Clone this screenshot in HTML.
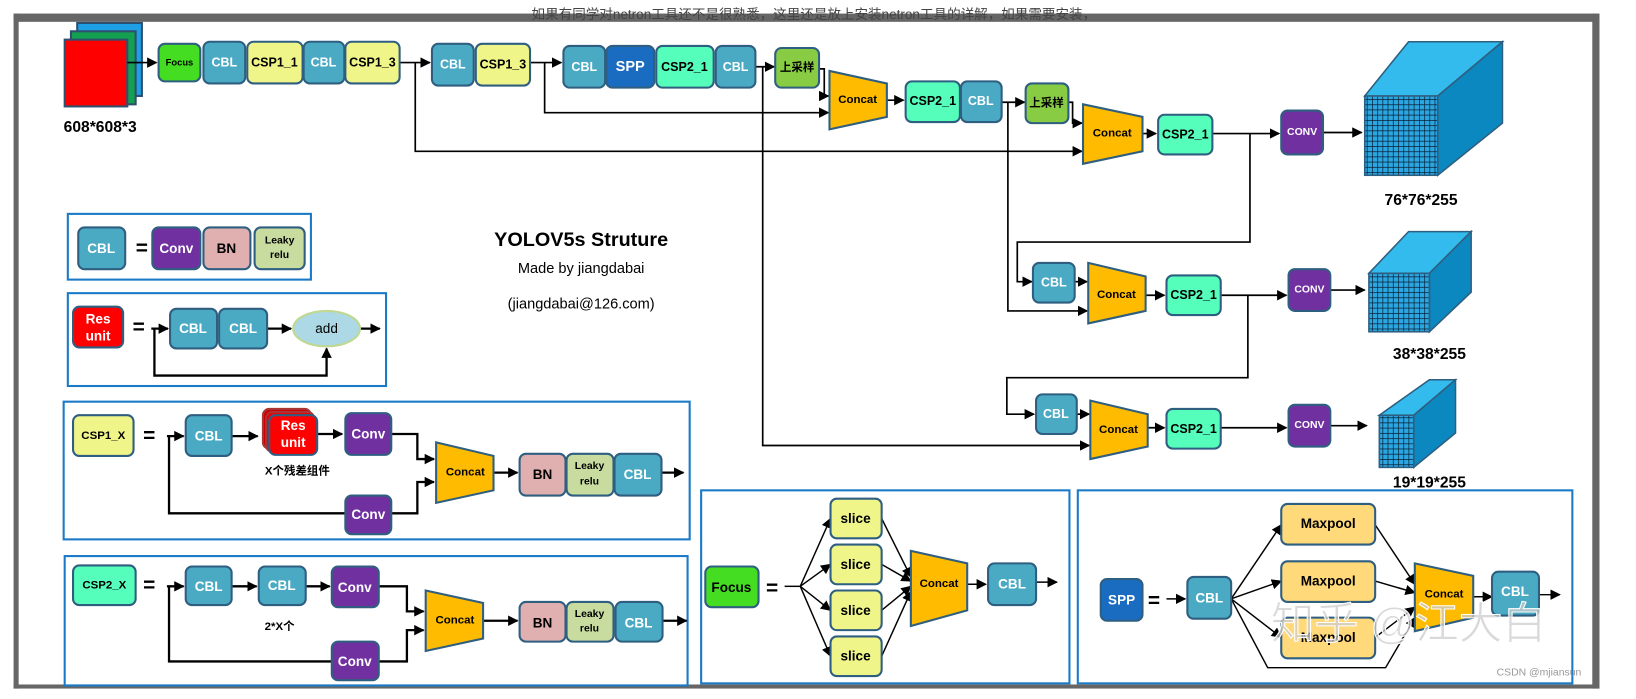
<!DOCTYPE html>
<html><head><meta charset="utf-8"><style>
html,body{margin:0;padding:0;background:#fff;overflow:hidden}
svg{display:block}
text{font-family:"Liberation Sans","Noto Sans CJK SC",sans-serif;font-weight:bold;text-anchor:middle;dominant-baseline:central}
text.n{font-weight:normal}
</style></head><body>
<svg width="1636" height="699" viewBox="0 0 1568 670" preserveAspectRatio="none" xmlns="http://www.w3.org/2000/svg">
<defs>
<marker id="a" markerUnits="userSpaceOnUse" markerWidth="10" markerHeight="10" refX="9" refY="5" orient="auto"><path d="M0,0L10,5L0,10z" fill="#000"/></marker>
<pattern id="g" width="5" height="5" patternUnits="userSpaceOnUse"><rect width="5" height="5" fill="#2aa6e0"/><path d="M0,0H5M0,0V5" stroke="#0a1a30" stroke-width="1.3"/></pattern>
</defs>
<rect width="1568" height="670" fill="#fff"/>
<!-- frame -->
<rect x="13" y="13" width="1517" height="8" fill="#666"/>
<text class="n" x="780" y="14" font-size="13" fill="#444">如果有同学对netron工具还不是很熟悉，这里还是放上安装netron工具的详解，如果需要安装，</text>
<rect x="13" y="13" width="5" height="647" fill="#666"/>
<rect x="1526" y="13" width="7" height="647" fill="#666"/>
<rect x="13" y="656" width="1520" height="4" fill="#666"/>
<rect x="18" y="21" width="1508" height="635" fill="#fff"/>

<g stroke="#2f4f6f" stroke-width="2">
<rect x="74" y="22" width="62" height="70" fill="#1ea0e6"/>
<rect x="68" y="30" width="62" height="70" fill="#13a050"/>
<rect x="62" y="38" width="60" height="64" fill="#ff0000"/>
</g>
<text x="96" y="122" font-size="15">608*608*3</text>

<g fill="none" stroke="#000" stroke-width="1.6">
<path d="M122,60H150" marker-end="url(#a)"/>
<path d="M383,60H412" marker-end="url(#a)"/>
<path d="M398,60V145H1037" marker-end="url(#a)"/>
<path d="M508,60H538" marker-end="url(#a)"/>
<path d="M522,60V108H794" marker-end="url(#a)"/>
<path d="M724,64H742" marker-end="url(#a)"/>
<path d="M731,64V427H1044" marker-end="url(#a)"/>
<path d="M785,66H790V92H794" marker-end="url(#a)"/>
<path d="M850,96H866" marker-end="url(#a)"/>
<path d="M960,98H982" marker-end="url(#a)"/>
<path d="M966,98V298H1042" marker-end="url(#a)"/>
<path d="M1024,98H1028V118H1037" marker-end="url(#a)"/>
<path d="M1095,128H1108" marker-end="url(#a)"/>
<path d="M1162,128H1226" marker-end="url(#a)"/>
<path d="M1268,127H1305" marker-end="url(#a)"/>
<path d="M1198,128V232H975V270H989" marker-end="url(#a)"/>
<path d="M1030,270H1042" marker-end="url(#a)"/>
<path d="M1098,283H1116" marker-end="url(#a)"/>
<path d="M1170,283H1233" marker-end="url(#a)"/>
<path d="M1275,278H1308" marker-end="url(#a)"/>
<path d="M1196,283V362H965V397H991" marker-end="url(#a)"/>
<path d="M1032,397H1044" marker-end="url(#a)"/>
<path d="M1100,410H1116" marker-end="url(#a)"/>
<path d="M1170,410H1233" marker-end="url(#a)"/>
<path d="M1275,408H1310" marker-end="url(#a)"/>
</g>

<g stroke="#2f5f80" stroke-width="2">
<rect x="152" y="42" width="40" height="36" rx="6" fill="#44dd22"/>
<rect x="195" y="40" width="40" height="40" rx="6" fill="#4aaac4"/>
<rect x="237" y="40" width="53" height="40" rx="6" fill="#f0f58a"/>
<rect x="291" y="40" width="39" height="40" rx="6" fill="#4aaac4"/>
<rect x="331" y="40" width="52" height="40" rx="6" fill="#f0f58a"/>
<rect x="414" y="42" width="40" height="40" rx="6" fill="#4aaac4"/>
<rect x="456" y="42" width="52" height="40" rx="6" fill="#f0f58a"/>
<rect x="540" y="44" width="40" height="40" rx="6" fill="#4aaac4"/>
<rect x="581" y="44" width="46" height="40" rx="6" fill="#1a6cc0"/>
<rect x="629" y="44" width="55" height="40" rx="6" fill="#55ffbb"/>
<rect x="686" y="44" width="38" height="40" rx="6" fill="#4aaac4"/>
<rect x="743" y="46" width="42" height="38" rx="6" fill="#88cc44"/>
<polygon points="795,68 850,80 850,112 795,124" fill="#ffbb00"/>
<rect x="868" y="78" width="52" height="39" rx="6" fill="#55ffbb"/>
<rect x="921" y="78" width="39" height="39" rx="6" fill="#4aaac4"/>
<rect x="983" y="80" width="41" height="38" rx="6" fill="#88cc44"/>
<polygon points="1038,100 1095,112 1095,145 1038,157" fill="#ffbb00"/>
<rect x="1110" y="110" width="52" height="38" rx="6" fill="#55ffbb"/>
<rect x="1228" y="106" width="40" height="42" rx="6" fill="#7030a0"/>
<rect x="990" y="252" width="40" height="38" rx="6" fill="#4aaac4"/>
<polygon points="1043,252 1098,265 1098,298 1043,310" fill="#ffbb00"/>
<rect x="1118" y="264" width="52" height="38" rx="6" fill="#55ffbb"/>
<rect x="1235" y="258" width="40" height="40" rx="6" fill="#7030a0"/>
<rect x="993" y="378" width="39" height="38" rx="6" fill="#4aaac4"/>
<polygon points="1045,384 1100,397 1100,428 1045,440" fill="#ffbb00"/>
<rect x="1118" y="392" width="52" height="38" rx="6" fill="#55ffbb"/>
<rect x="1235" y="388" width="40" height="40" rx="6" fill="#7030a0"/>
</g>
<g font-size="12">
<text x="172" y="60" font-size="9">Focus</text>
<text x="215" y="60" fill="#fff">CBL</text>
<text x="263" y="60">CSP1_1</text>
<text x="310" y="60" fill="#fff">CBL</text>
<text x="357" y="60">CSP1_3</text>
<text x="434" y="62" fill="#fff">CBL</text>
<text x="482" y="62">CSP1_3</text>
<text x="560" y="64" fill="#fff">CBL</text>
<text x="604" y="64" fill="#fff" font-size="14">SPP</text>
<text x="656" y="64">CSP2_1</text>
<text x="705" y="64" fill="#fff">CBL</text>
<text x="764" y="65" font-size="11">上采样</text>
<text x="822" y="96" font-size="11">Concat</text>
<text x="894" y="97">CSP2_1</text>
<text x="940" y="97" fill="#fff">CBL</text>
<text x="1003" y="99" font-size="11">上采样</text>
<text x="1066" y="128" font-size="11">Concat</text>
<text x="1136" y="129">CSP2_1</text>
<text x="1248" y="127" fill="#fff" font-size="10">CONV</text>
<text x="1010" y="271" fill="#fff">CBL</text>
<text x="1070" y="283" font-size="11">Concat</text>
<text x="1144" y="283">CSP2_1</text>
<text x="1255" y="278" fill="#fff" font-size="10">CONV</text>
<text x="1012" y="397" fill="#fff">CBL</text>
<text x="1072" y="412" font-size="11">Concat</text>
<text x="1144" y="411">CSP2_1</text>
<text x="1255" y="408" fill="#fff" font-size="10">CONV</text>
</g>

<g stroke="#2f5f80" stroke-width="1.5">
<polygon points="1308,92 1350,40 1440,40 1378,92" fill="#33bbee"/>
<polygon points="1378,92 1440,40 1440,118 1378,168" fill="#0b88c0"/>
<rect x="1308" y="92" width="70" height="76" fill="url(#g)"/>
<polygon points="1312,262 1350,222 1410,222 1370,262" fill="#33bbee"/>
<polygon points="1370,262 1410,222 1410,280 1370,318" fill="#0b88c0"/>
<rect x="1312" y="262" width="58" height="56" fill="url(#g)"/>
<polygon points="1322,398 1370,364 1395,364 1355,398" fill="#33bbee"/>
<polygon points="1355,398 1395,364 1395,415 1355,448" fill="#0b88c0"/>
<rect x="1322" y="398" width="33" height="50" fill="url(#g)"/>
</g>
<text x="1362" y="192" font-size="15">76*76*255</text>
<text x="1370" y="340" font-size="15">38*38*255</text>
<text x="1370" y="463" font-size="15">19*19*255</text>

<text x="557" y="230" font-size="19">YOLOV5s Struture</text>
<text class="n" x="557" y="258" font-size="14">Made by jiangdabai</text>
<text class="n" x="557" y="292" font-size="14">(jiangdabai@126.com)</text>

<g fill="none" stroke="#1a7ac8" stroke-width="2">
<rect x="65" y="205" width="233" height="63"/>
<rect x="65" y="281" width="305" height="89"/>
<rect x="61" y="385" width="600" height="132"/>
<rect x="62" y="533" width="597" height="124"/>
<rect x="672" y="470" width="353" height="185"/>
<rect x="1033" y="470" width="474" height="185"/>
</g>

<g fill="none" stroke="#000" stroke-width="2.2">
<path d="M145,315H161" marker-end="url(#a)"/>
<path d="M256,315H279" marker-end="url(#a)"/>
<path d="M345,315H364" marker-end="url(#a)"/>
<path d="M148,315V360H313V334" marker-end="url(#a)"/>
<path d="M160,418H176" marker-end="url(#a)"/>
<path d="M222,418H247" marker-end="url(#a)"/>
<path d="M302,416H328" marker-end="url(#a)"/>
<path d="M375,416H400V440H416" marker-end="url(#a)"/>
<path d="M162,418V492H375H400V462H416" marker-end="url(#a)"/>
<path d="M473,453H496" marker-end="url(#a)"/>
<path d="M634,453H655" marker-end="url(#a)"/>
<path d="M160,562H176" marker-end="url(#a)"/>
<path d="M222,562H246" marker-end="url(#a)"/>
<path d="M293,562H316" marker-end="url(#a)"/>
<path d="M363,562H390V586H406" marker-end="url(#a)"/>
<path d="M162,562V634H363H390V604H406" marker-end="url(#a)"/>
<path d="M463,595H496" marker-end="url(#a)"/>
<path d="M635,595H658" marker-end="url(#a)"/>
</g>
<g stroke="#2f5f80" stroke-width="2">
<rect x="75" y="218" width="45" height="40" rx="6" fill="#4aaac4"/>
<rect x="146" y="218" width="46" height="40" rx="6" fill="#7030a0"/>
<rect x="195" y="218" width="45" height="40" rx="6" fill="#e0b0b0"/>
<rect x="244" y="218" width="48" height="40" rx="6" fill="#c8dca0"/>
<rect x="70" y="294" width="48" height="39" rx="6" fill="#ff0000"/>
<rect x="163" y="296" width="45" height="38" rx="6" fill="#4aaac4"/>
<rect x="210" y="296" width="46" height="38" rx="6" fill="#4aaac4"/>
<ellipse cx="313" cy="315" rx="32" ry="17" fill="#add8e6" stroke="#c0d890"/>
<rect x="70" y="398" width="58" height="39" rx="6" fill="#f0f58a"/>
<rect x="178" y="398" width="44" height="39" rx="6" fill="#4aaac4"/>
<rect x="252" y="392" width="46" height="38" rx="6" fill="#c00" stroke="#a33"/>
<rect x="255" y="395" width="46" height="38" rx="6" fill="#e00" stroke="#a33"/>
<rect x="258" y="398" width="46" height="38" rx="6" fill="#ff0000"/>
<rect x="331" y="396" width="44" height="40" rx="6" fill="#7030a0"/>
<rect x="331" y="475" width="44" height="37" rx="6" fill="#7030a0"/>
<polygon points="418,424 473,437 473,470 418,482" fill="#ffbb00"/>
<rect x="498" y="435" width="44" height="40" rx="6" fill="#e0b0b0"/>
<rect x="543" y="435" width="45" height="40" rx="6" fill="#c8dca0"/>
<rect x="589" y="435" width="45" height="40" rx="6" fill="#4aaac4"/>
<rect x="70" y="542" width="60" height="38" rx="6" fill="#55ffbb"/>
<rect x="178" y="543" width="44" height="37" rx="6" fill="#4aaac4"/>
<rect x="248" y="543" width="45" height="37" rx="6" fill="#4aaac4"/>
<rect x="318" y="543" width="45" height="39" rx="6" fill="#7030a0"/>
<rect x="318" y="615" width="45" height="37" rx="6" fill="#7030a0"/>
<polygon points="408,566 463,578 463,612 408,624" fill="#ffbb00"/>
<rect x="498" y="577" width="44" height="38" rx="6" fill="#e0b0b0"/>
<rect x="543" y="577" width="45" height="38" rx="6" fill="#c8dca0"/>
<rect x="590" y="577" width="45" height="38" rx="6" fill="#4aaac4"/>
</g>
<g font-size="13">
<text x="97" y="238" fill="#fff">CBL</text>
<text x="136" y="238" font-size="20">=</text>
<text x="169" y="238" fill="#fff">Conv</text>
<text x="217" y="238">BN</text>
<text x="268" y="231" font-size="10">Leaky</text>
<text x="268" y="245" font-size="10">relu</text>
<text x="94" y="306" fill="#fff">Res</text>
<text x="94" y="322" fill="#fff">unit</text>
<text x="133" y="314" font-size="20">=</text>
<text x="185" y="315" fill="#fff">CBL</text>
<text x="233" y="315" fill="#fff">CBL</text>
<text class="n" x="313" y="315">add</text>
<text x="99" y="418" font-size="11">CSP1_X</text>
<text x="143" y="418" font-size="20">=</text>
<text x="200" y="418" fill="#fff">CBL</text>
<text x="281" y="408" fill="#fff">Res</text>
<text x="281" y="424" fill="#fff">unit</text>
<text x="353" y="416" fill="#fff">Conv</text>
<text x="285" y="452" font-size="11">X个残差组件</text>
<text x="353" y="493" fill="#fff">Conv</text>
<text x="446" y="453" font-size="11">Concat</text>
<text x="520" y="455">BN</text>
<text x="565" y="447" font-size="10">Leaky</text>
<text x="565" y="462" font-size="10">relu</text>
<text x="611" y="455" fill="#fff">CBL</text>
<text x="100" y="561" font-size="11">CSP2_X</text>
<text x="143" y="561" font-size="20">=</text>
<text x="200" y="562" fill="#fff">CBL</text>
<text x="270" y="561" fill="#fff">CBL</text>
<text x="340" y="563" fill="#fff">Conv</text>
<text x="268" y="601" font-size="11">2*X个</text>
<text x="340" y="634" fill="#fff">Conv</text>
<text x="436" y="595" font-size="11">Concat</text>
<text x="520" y="597">BN</text>
<text x="565" y="589" font-size="10">Leaky</text>
<text x="565" y="603" font-size="10">relu</text>
<text x="612" y="597" fill="#fff">CBL</text>
</g>

<g fill="none" stroke="#000" stroke-width="1.4">
<path d="M752,562H767"/>
<path d="M767,562L796,497" marker-end="url(#a)"/>
<path d="M767,562L796,541" marker-end="url(#a)"/>
<path d="M767,562L796,585" marker-end="url(#a)"/>
<path d="M767,562L796,629" marker-end="url(#a)"/>
<path d="M845,497L873,553" marker-end="url(#a)"/>
<path d="M845,541L873,557" marker-end="url(#a)"/>
<path d="M845,585L873,562" marker-end="url(#a)"/>
<path d="M845,629L873,567" marker-end="url(#a)"/>
<path d="M927,560H945" marker-end="url(#a)"/>
<path d="M993,558H1013" marker-end="url(#a)"/>
<path d="M1118,574H1136" marker-end="url(#a)"/>
<path d="M1180,574L1228,503" marker-end="url(#a)"/>
<path d="M1180,574L1228,557" marker-end="url(#a)"/>
<path d="M1180,574L1228,611" marker-end="url(#a)"/>
<path d="M1180,574L1215,640H1328L1356,592" marker-end="url(#a)"/>
<path d="M1318,503L1356,560" marker-end="url(#a)"/>
<path d="M1318,557L1356,568" marker-end="url(#a)"/>
<path d="M1318,611L1356,582" marker-end="url(#a)"/>
<path d="M1412,572H1430" marker-end="url(#a)"/>
<path d="M1475,570H1495" marker-end="url(#a)"/>
</g>
<g stroke="#2f5f80" stroke-width="2">
<rect x="676" y="543" width="51" height="39" rx="6" fill="#44dd22"/>
<rect x="796" y="478" width="49" height="38" rx="6" fill="#f0f58a"/>
<rect x="796" y="522" width="49" height="38" rx="6" fill="#f0f58a"/>
<rect x="796" y="566" width="49" height="38" rx="6" fill="#f0f58a"/>
<rect x="796" y="610" width="49" height="38" rx="6" fill="#f0f58a"/>
<polygon points="873,528 927,540 927,585 873,600" fill="#ffbb00"/>
<rect x="947" y="540" width="46" height="40" rx="6" fill="#4aaac4"/>
<rect x="1055" y="555" width="40" height="40" rx="6" fill="#1a6cc0"/>
<rect x="1138" y="553" width="42" height="40" rx="6" fill="#4aaac4"/>
<rect x="1228" y="483" width="90" height="39" rx="6" fill="#ffd97a"/>
<rect x="1228" y="538" width="90" height="39" rx="6" fill="#ffd97a"/>
<rect x="1228" y="592" width="90" height="39" rx="6" fill="#ffd97a"/>
<polygon points="1356,540 1412,552 1412,592 1356,605" fill="#ffbb00"/>
<rect x="1430" y="548" width="45" height="42" rx="6" fill="#4aaac4"/>
</g>
<g font-size="13">
<text x="701" y="563">Focus</text>
<text x="740" y="564" font-size="20">=</text>
<text x="820" y="497">slice</text>
<text x="820" y="541">slice</text>
<text x="820" y="585">slice</text>
<text x="820" y="629">slice</text>
<text x="900" y="560" font-size="11">Concat</text>
<text x="970" y="560" fill="#fff">CBL</text>
<text x="1075" y="575" fill="#fff">SPP</text>
<text x="1106" y="576" font-size="20">=</text>
<text x="1159" y="573" fill="#fff">CBL</text>
<text x="1273" y="502">Maxpool</text>
<text x="1273" y="557">Maxpool</text>
<text x="1273" y="611">Maxpool</text>
<text x="1384" y="570" font-size="11">Concat</text>
<text x="1452" y="567" fill="#fff">CBL</text>
</g>
<text class="n" x="1350" y="598" font-size="42" fill="#ccc" fill-opacity="0.75" stroke="#fff" stroke-width="1">知乎 @江大白</text>
<text class="n" x="1475" y="645" font-size="10" fill="#999">CSDN @mjiansun</text>
</svg>
</body></html>
